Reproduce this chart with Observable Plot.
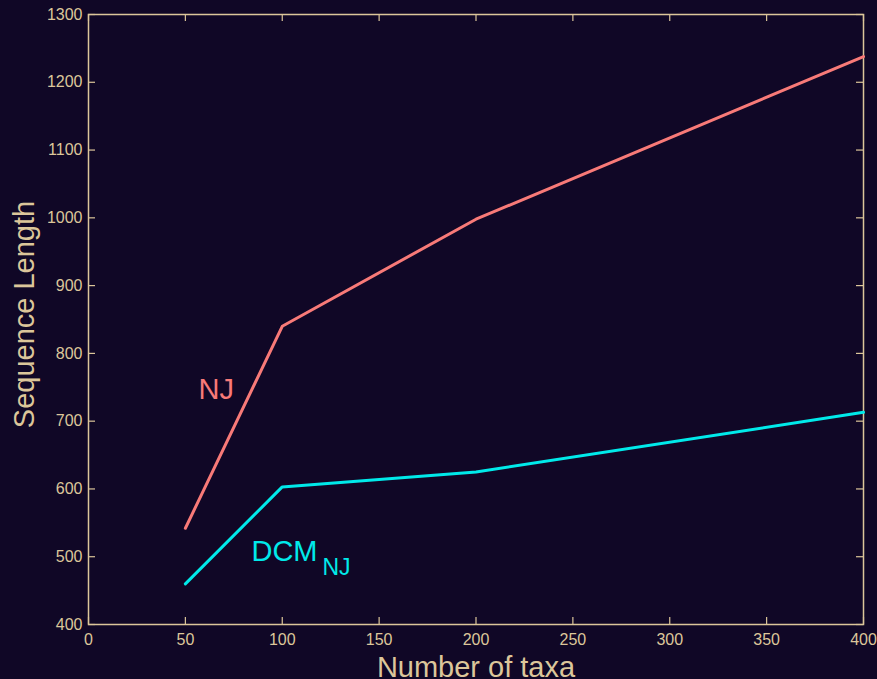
<!DOCTYPE html>
<html>
<head>
<meta charset="utf-8">
<script src="https://cdn.jsdelivr.net/npm/d3@7"></script>
<script src="https://cdn.jsdelivr.net/npm/@observablehq/plot@0.6"></script>
<style>
  html, body { margin: 0; padding: 0; background: #100726; }
  #chart svg { display: block; }
</style>
</head>
<body>
<div id="chart"></div>
<script>
const taxa = [50, 100, 200, 400];
const njValues = [542, 840, 998, 1238];
const dcmValues = [460, 603, 625, 713];
const xTicks = [0, 50, 100, 150, 200, 250, 300, 350, 400];
const yTicks = [400, 500, 600, 700, 800, 900, 1000, 1100, 1200, 1300];

const nj = taxa.map((x, i) => ({x, y: njValues[i]}));
const dcm = taxa.map((x, i) => ({x, y: dcmValues[i]}));

const fg = "#dcc69a";
const W = 877, H = 679;
const mL = 88, mR = 14, mT = 14, mB = 55;
const pw = W - mL - mR, ph = H - mT - mB;
const tick = 7;

const chart = Plot.plot({
  width: W,
  height: H,
  marginLeft: mL, marginRight: mR, marginTop: mT, marginBottom: mB,
  style: {background: "#100726", color: fg, fontFamily: "'Liberation Sans', Arial, sans-serif", fontSize: "16px"},
  x: {domain: [0, 400]},
  y: {domain: [400, 1300]},
  marks: [
    Plot.axisX(xTicks, {tickSize: 0, tickPadding: 9, fontSize: 16, fill: fg, label: null, tickFormat: "d"}),
    Plot.axisY(yTicks, {tickSize: 0, tickPadding: 6, fontSize: 16, fill: fg, label: null, tickFormat: "d"}),
    Plot.ruleX(xTicks, {x: d => d, insetTop: ph - tick, stroke: fg, strokeWidth: 1.2}),
    Plot.ruleX(xTicks, {x: d => d, insetBottom: ph - tick, stroke: fg, strokeWidth: 1.2}),
    Plot.ruleY(yTicks, {y: d => d, insetRight: pw - tick, stroke: fg, strokeWidth: 1.2}),
    Plot.ruleY(yTicks, {y: d => d, insetLeft: pw - tick, stroke: fg, strokeWidth: 1.2}),
    Plot.frame({stroke: fg, strokeWidth: 1.5}),
    Plot.line(nj, {x: "x", y: "y", stroke: "#f87a78", strokeWidth: 3}),
    Plot.line(dcm, {x: "x", y: "y", stroke: "#00eaea", strokeWidth: 3}),
    Plot.text([{x: 56.8, y: 732, t: "NJ"}], {x: "x", y: "y", text: "t", textAnchor: "start", lineAnchor: "bottom", fill: "#f87a78", fontSize: 29}),
    Plot.text([{x: 84.1, y: 493, t: "DCM"}], {x: "x", y: "y", text: "t", textAnchor: "start", lineAnchor: "bottom", fill: "#00eaea", fontSize: 29}),
    Plot.text([{x: 84.1, y: 493, t: "NJ"}], {x: "x", y: "y", text: "t", textAnchor: "start", lineAnchor: "bottom", dx: 71, dy: 14, fill: "#00eaea", fontSize: 23}),
    Plot.text(["Number of taxa"], {text: d => d, frameAnchor: "bottom", textAnchor: "middle", dy: 52, lineAnchor: "bottom", fill: fg, fontSize: 29}),
    Plot.text(["Sequence Length"], {text: d => d, frameAnchor: "left", textAnchor: "middle", dx: -64, dy: -5, rotate: -90, fill: fg, fontSize: 29})
  ]
});
document.getElementById("chart").appendChild(chart);
</script>
</body>
</html>
